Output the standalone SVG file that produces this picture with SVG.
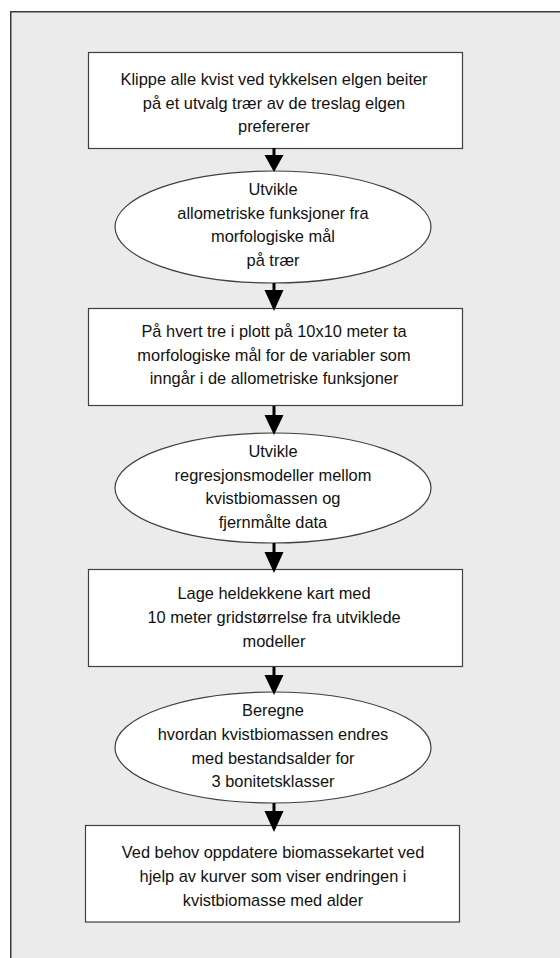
<svg xmlns="http://www.w3.org/2000/svg" width="560" height="958" viewBox="0 0 560 958">
<defs>
<style>
.frame{fill:#ebebeb;stroke:#3a3a3a;stroke-width:1.5}
.node{fill:#ffffff;stroke:#404040;stroke-width:1.2}
.t{font-family:"Liberation Sans",Arial,sans-serif;font-size:16.4px;fill:#111;text-anchor:middle}
.conn line{stroke:#000;stroke-width:3}
.conn polygon{fill:#000}
</style>
</defs>
<rect class="frame" x="10.75" y="11.75" width="560" height="960"/>

<g id="n1">
<rect class="node" x="88.5" y="52.5" width="374" height="96"/>
<text class="t"><tspan x="274" y="85">Klippe alle kvist ved tykkelsen elgen beiter</tspan><tspan x="274" y="108.5">på et utvalg trær av de treslag elgen</tspan><tspan x="274" y="132">prefererer</tspan></text>
</g>

<g id="n2">
<ellipse class="node" cx="273" cy="227" rx="158" ry="56"/>
<text class="t"><tspan x="273" y="195">Utvikle</tspan><tspan x="273" y="218.5">allometriske funksjoner fra</tspan><tspan x="273" y="242">morfologiske mål</tspan><tspan x="273" y="266">på trær</tspan></text>
</g>

<g id="n3">
<rect class="node" x="88.5" y="308.5" width="374" height="97"/>
<text class="t"><tspan x="274" y="337">På hvert tre i plott på 10x10 meter ta</tspan><tspan x="274" y="360.5">morfologiske mål for de variabler som</tspan><tspan x="274" y="384">inngår i de allometriske funksjoner</tspan></text>
</g>

<g id="n4">
<ellipse class="node" cx="273" cy="488" rx="158" ry="55"/>
<text class="t"><tspan x="273" y="457">Utvikle</tspan><tspan x="273" y="480.5">regresjonsmodeller mellom</tspan><tspan x="273" y="504">kvistbiomassen og</tspan><tspan x="273" y="528">fjernmålte data</tspan></text>
</g>

<g id="n5">
<rect class="node" x="88.5" y="569.5" width="374" height="97"/>
<text class="t"><tspan x="274" y="599">Lage heldekkene kart med</tspan><tspan x="274" y="623">10 meter gridstørrelse fra utviklede</tspan><tspan x="274" y="647">modeller</tspan></text>
</g>

<g id="n6">
<ellipse class="node" cx="273" cy="747.5" rx="158" ry="55.5"/>
<text class="t"><tspan x="273" y="716">Beregne</tspan><tspan x="273" y="740">hvordan kvistbiomassen endres</tspan><tspan x="273" y="763.5">med bestandsalder for</tspan><tspan x="273" y="787">3 bonitetsklasser</tspan></text>
</g>

<g id="n7">
<rect class="node" x="85.5" y="825.5" width="374" height="96.5"/>
<text class="t"><tspan x="273" y="858">Ved behov oppdatere biomassekartet ved</tspan><tspan x="273" y="882">hjelp av kurver som viser endringen i</tspan><tspan x="273" y="905.5">kvistbiomasse med alder</tspan></text>
</g>

<g id="connectors" class="conn">
<line x1="274" y1="148" x2="274" y2="157"/><polygon points="264.5,155 283.5,155 274,172"/>
<line x1="274" y1="283" x2="274" y2="292"/><polygon points="264.5,290 283.5,290 274,311"/>
<line x1="274" y1="406" x2="274" y2="417"/><polygon points="264.5,415 283.5,415 274,435"/>
<line x1="274" y1="543" x2="274" y2="554"/><polygon points="264.5,552 283.5,552 274,573"/>
<line x1="274" y1="667" x2="274" y2="677"/><polygon points="264.5,675 283.5,675 274,695"/>
<line x1="274" y1="803" x2="274" y2="813"/><polygon points="264.5,811 283.5,811 274,832"/>
</g>
</svg>
